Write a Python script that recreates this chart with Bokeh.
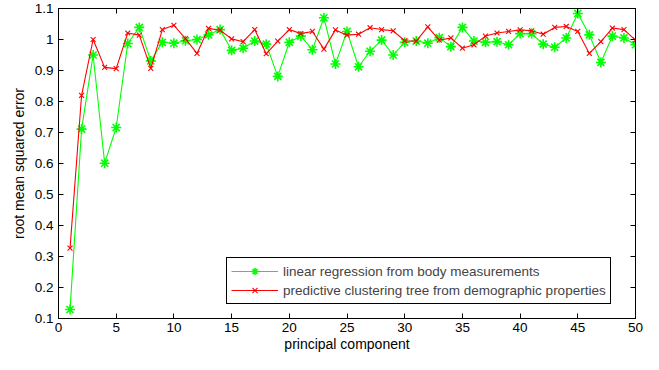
from bokeh.plotting import figure
from bokeh.models import Range1d, FixedTicker, LinearAxis, Legend, LegendItem
from bokeh.embed import file_html
from bokeh.resources import INLINE

# ---- data ----
components = list(range(1, 51))
linear_regression = [
    0.129, 0.711, 0.950, 0.601, 0.716, 0.987, 1.039, 0.931, 0.991, 0.988,
    0.996, 1.000, 1.015, 1.032, 0.965, 0.972, 0.995, 0.985, 0.881, 0.991,
    1.011, 0.967, 1.070, 0.921, 1.026, 0.912, 0.962, 0.998, 0.950, 0.991,
    0.995, 0.988, 1.006, 0.977, 1.039, 0.995, 0.991, 0.993, 0.983, 1.019,
    1.019, 0.985, 0.975, 1.005, 1.084, 1.015, 0.926, 1.011, 1.005, 0.983,
]
clustering_tree = [
    0.327, 0.820, 1.000, 0.910, 0.906, 1.021, 1.014, 0.907, 1.032, 1.046,
    1.003, 0.955, 1.036, 1.030, 1.002, 0.993, 1.032, 0.954, 0.995, 1.032,
    1.019, 1.026, 0.969, 1.031, 1.014, 1.017, 1.038, 1.032, 1.028, 0.996,
    0.995, 1.041, 0.998, 1.005, 0.972, 0.983, 1.011, 1.021, 1.026, 1.031,
    1.028, 1.017, 1.039, 1.042, 1.026, 0.955, 0.993, 1.037, 1.032, 0.998,
]
x_ticks = [0, 5, 10, 15, 20, 25, 30, 35, 40, 45, 50]
y_ticks = [0.1, 0.2, 0.3, 0.4, 0.5, 0.6, 0.7, 0.8, 0.9, 1.0, 1.1]
y_tick_labels = ["0.1", "0.2", "0.3", "0.4", "0.5", "0.6", "0.7", "0.8", "0.9", "1", "1.1"]
series_labels = ["linear regression from body measurements",
                 "predictive clustering tree from demographic properties"]

FONT = "Liberation Sans"

p = figure(width=643, height=354, x_range=Range1d(0, 50), y_range=Range1d(0.1, 1.1),
           output_backend="svg", toolbar_location=None,
           min_border_left=58, min_border_right=8, min_border_top=8, min_border_bottom=32)
p.xgrid.visible = False
p.ygrid.visible = False
p.outline_line_color = "black"
p.outline_line_alpha = 1.0
p.background_fill_color = "white"
p.border_fill_color = "white"

bottom_axis = p.below[0]
left_axis = p.left[0]
bottom_axis.ticker = FixedTicker(ticks=x_ticks)
left_axis.ticker = FixedTicker(ticks=y_ticks)
left_axis.major_label_overrides = {t: l for t, l in zip(y_ticks, y_tick_labels)}
bottom_axis.axis_label = "principal component"
left_axis.axis_label = "root mean squared error"

top_axis = LinearAxis(ticker=FixedTicker(ticks=x_ticks))
right_axis = LinearAxis(ticker=FixedTicker(ticks=y_ticks))
p.add_layout(top_axis, "above")
p.add_layout(right_axis, "right")

for ax in [bottom_axis, left_axis, top_axis, right_axis]:
    ax.major_tick_in = 5
    ax.major_tick_out = 0
    ax.minor_tick_line_color = None
    ax.axis_line_color = "black"
    ax.major_tick_line_color = "black"
    ax.major_label_text_font = FONT
    ax.major_label_text_font_size = "13.5px"
    ax.major_label_text_color = "black"
    ax.axis_label_text_font = FONT
    ax.axis_label_text_font_size = "14px"
    ax.axis_label_text_font_style = "normal"
    ax.axis_label_text_color = "black"

for ax in [top_axis, right_axis]:
    ax.major_label_text_font_size = "1px"
    ax.major_label_text_color = None
    ax.major_label_standoff = 0

bottom_axis.major_label_standoff = 4
bottom_axis.axis_label_standoff = 1
left_axis.major_label_standoff = 5
left_axis.axis_label_standoff = 5

gl = p.line(components, linear_regression, line_color="#00ff00", line_width=1.1)
gs = p.scatter(components, linear_regression, marker="asterisk", size=10,
               line_color="#00ff00", line_width=1.6)
rl = p.line(components, clustering_tree, line_color="#ff0000", line_width=1.1)
rs = p.scatter(components, clustering_tree, marker="x", size=7,
               line_color="#ff0000", line_width=1.1)

legend = Legend(items=[LegendItem(label=series_labels[0], renderers=[gl, gs]),
                       LegendItem(label=series_labels[1], renderers=[rl, rs])],
                location=(168, 14), padding=4, spacing=1, margin=0,
                glyph_width=47, glyph_height=18, label_standoff=5,
                label_text_font=FONT, label_text_font_size="13.5px",
                border_line_color="black", border_line_alpha=1.0,
                background_fill_color="white", background_fill_alpha=1.0)
p.add_layout(legend)

open("out.html", "w").write(file_html(p, INLINE))
